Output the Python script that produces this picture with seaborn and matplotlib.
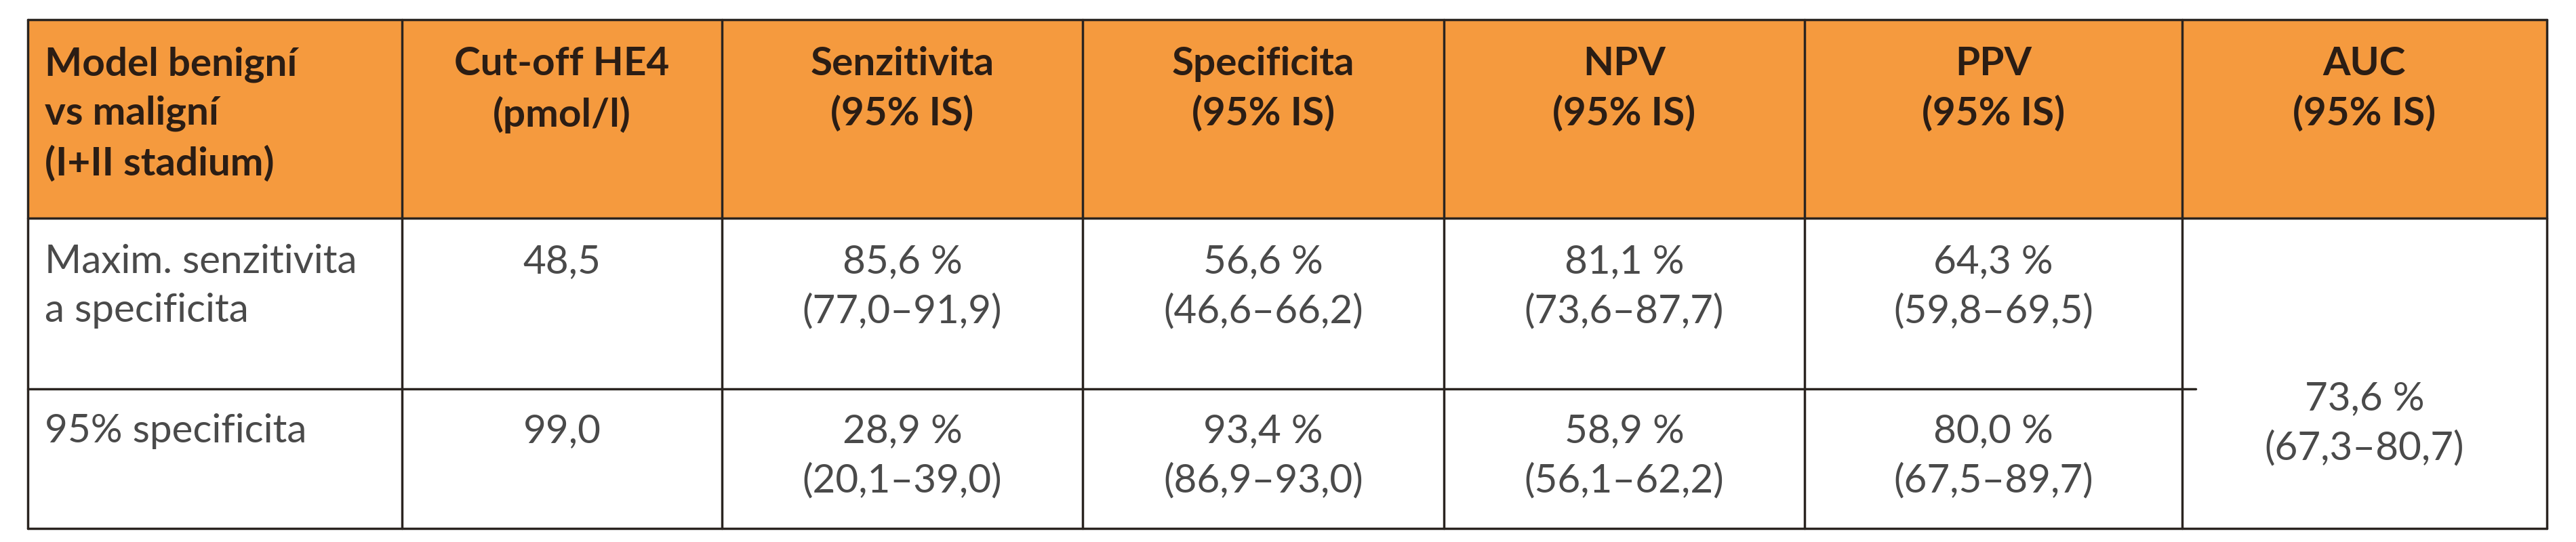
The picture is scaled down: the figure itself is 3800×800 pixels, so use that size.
import matplotlib.pyplot as plt
import seaborn as sns

sns.set_theme(style="white")
plt.rcParams['font.family'] = ['Lato', 'DejaVu Sans']

headers = ["Model benigní\nvs maligní\n(I+II stadium)", "Cut-off HE4\n(pmol/l)",
           "Senzitivita\n(95% IS)", "Specificita\n(95% IS)", "NPV\n(95% IS)",
           "PPV\n(95% IS)", "AUC\n(95% IS)"]
row_labels = ["Maxim. senzitivita\na specificita", "95% specificita"]
cutoffs = ["48,5", "99,0"]
senzitivita = ["85,6 %\n(77,0–91,9)", "28,9 %\n(20,1–39,0)"]
specificita = ["56,6 %\n(46,6–66,2)", "93,4 %\n(86,9–93,0)"]
npv = ["81,1 %\n(73,6–87,7)", "58,9 %\n(56,1–62,2)"]
ppv = ["64,3 %\n(59,8–69,5)", "80,0 %\n(67,5–89,7)"]
auc = "73,6 %\n(67,3–80,7)"

xs = [41, 593, 1065, 1597, 2130, 2662, 3219, 3757]
ys = [29, 322, 574, 780]
orange = "#F59A3E"
line_c = "#2a2420"

fig = plt.figure(figsize=(38, 8), dpi=100)
ax = fig.add_axes([0, 0, 1, 1])
ax.set_xlim(0, 3800)
ax.set_ylim(800, 0)
ax.axis("off")

ax.fill_between([xs[0], xs[-1]], ys[0], ys[1], color=orange, lw=0)
lw = 2.5
for y in (ys[0], ys[1], ys[3]):
    ax.plot([xs[0], xs[-1]], [y, y], color=line_c, lw=lw)
ax.plot([xs[0], xs[-2] + 20], [ys[2], ys[2]], color=line_c, lw=lw)
for x in xs:
    ax.plot([x, x], [ys[0], ys[3]], color=line_c, lw=lw)

fs = 42
ls = 1.45
for i, h in enumerate(headers):
    if i == 0:
        ax.text(xs[0] + 25, 68, h, ha="left", va="top", fontsize=fs,
                fontweight="bold", color="#2b1d14", linespacing=ls)
    else:
        ax.text((xs[i] + xs[i + 1]) / 2, 68, h, ha="center", va="top", fontsize=fs,
                fontweight="bold", color="#2b1d14", linespacing=ls)

body = "#4a4a4a"
cols = [cutoffs, senzitivita, specificita, npv, ppv]
for r in range(2):
    top = [360, 610][r]
    ax.text(xs[0] + 25, top, row_labels[r], ha="left", va="top", fontsize=fs,
            fontweight="normal", color=body, linespacing=ls)
    for c, vals in enumerate(cols):
        ax.text((xs[c + 1] + xs[c + 2]) / 2, top, vals[r], ha="center", va="top",
                fontsize=fs, fontweight="normal", color=body, linespacing=ls)
ax.text((xs[6] + xs[7]) / 2, 625, auc, ha="center", va="center", fontsize=fs,
        fontweight="normal", color=body, linespacing=ls)

fig.savefig("out.png", dpi=100, facecolor="white")
